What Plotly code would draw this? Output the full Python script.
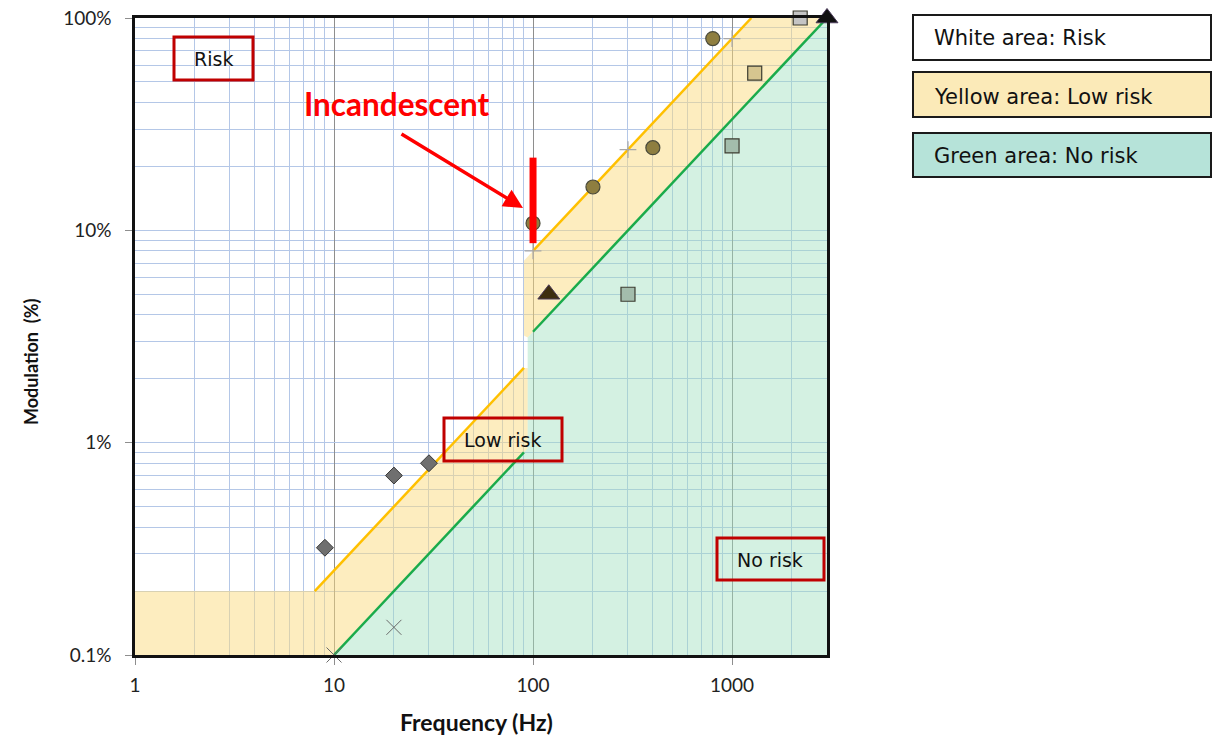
import math
import plotly.graph_objects as go

# ---- risk boundaries (modulation % vs frequency Hz) ----
low_risk_f1 = [8, 90]
low_risk_m1 = [0.2, 2.25]
low_risk_f2 = [100, 1250]
low_risk_m2 = [8, 100]
no_risk_f1 = [10, 90]
no_risk_m1 = [0.1, 0.9]
no_risk_f2 = [100, 3000]
no_risk_m2 = [3.33, 100]

# shaded regions
yellow_low_f = [1, 1, 8, 90, 94, 94, 90, 10, 1]
yellow_low_m = [0.1, 0.2, 0.2, 2.25, 2.25, 0.94, 0.9, 0.1, 0.1]
yellow_high_f = [90, 90, 1250, 3000, 94, 90]
yellow_high_m = [3.2, 7.2, 100, 100, 3.13, 3.2]
green_f = [10, 90, 94, 94, 3000, 3000, 10]
green_m = [0.1, 0.9, 0.94, 3.13, 100, 0.1, 0.1]

# ---- measured light sources ----
diamond_f = [9, 20, 30]
diamond_m = [0.32, 0.70, 0.80]
cross_f = [10, 20]
cross_m = [0.1, 0.135]
circle_f = [100, 200, 400, 800]
circle_m = [10.8, 16, 24.5, 80]
plus_f = [100, 300, 1000]
plus_m = [8, 24, 80]
square_f = [300, 1000, 1300, 2200]
square_m = [5, 25, 55, 100]
square_colors = ["#a3bdac", "#a3bdac", "#d6c58f", "#c4c4c4"]
triangle_f = [120, 3000]
triangle_m = [5, 100]
triangle_colors = ["#3d2e0f", "#111111"]

# ---- axis ticks ----
x_tickvals = [1, 10, 100, 1000]
x_ticktext = ["1", "10", "100", "1000"]
y_tickvals = [0.1, 1, 10, 100]
y_ticktext = ["0.1%", "1%", "10%", "100%"]

minor_x = [d * 10 ** e for e in range(0, 4) for d in range(2, 10) if d * 10 ** e <= 3000]
minor_y = [d * 10 ** e for e in range(-1, 2) for d in range(2, 10)]

BLUE_GRID = "#b4c7e7"
YELLOW_FILL = "rgba(252,220,128,0.5)"
GREEN_FILL = "rgba(160,225,190,0.45)"

fig = go.Figure()

for fx, fy, col in [(yellow_low_f, yellow_low_m, YELLOW_FILL),
                    (yellow_high_f, yellow_high_m, YELLOW_FILL),
                    (green_f, green_m, GREEN_FILL)]:
    fig.add_trace(go.Scatter(x=fx, y=fy, mode="lines", fill="toself",
                             fillcolor=col, line=dict(width=0),
                             hoverinfo="skip", showlegend=False))

for fx, fy, col in [(low_risk_f1, low_risk_m1, "#ffc000"),
                    (low_risk_f2, low_risk_m2, "#ffc000"),
                    (no_risk_f1, no_risk_m1, "#1aab4b"),
                    (no_risk_f2, no_risk_m2, "#1aab4b")]:
    fig.add_trace(go.Scatter(x=fx, y=fy, mode="lines",
                             line=dict(color=col, width=2.5),
                             showlegend=False))

marker_common = dict(mode="markers", showlegend=False, cliponaxis=False)
fig.add_trace(go.Scatter(x=diamond_f, y=diamond_m, **marker_common,
                         marker=dict(symbol="diamond", size=13, color="#6f6f6f",
                                     line=dict(color="#3a3a3a", width=1))))
fig.add_trace(go.Scatter(x=cross_f, y=cross_m, **marker_common,
                         marker=dict(symbol="x-thin", size=15,
                                     line=dict(color="#6a6a6a", width=1))))
fig.add_trace(go.Scatter(x=plus_f, y=plus_m, **marker_common,
                         marker=dict(symbol="cross-thin", size=12,
                                     line=dict(color="#a8a8a8", width=1.2))))
fig.add_trace(go.Scatter(x=circle_f, y=circle_m, **marker_common,
                         marker=dict(symbol="circle", size=14, color="#8e7e40",
                                     line=dict(color="#4a4a3a", width=1.2))))
fig.add_trace(go.Scatter(x=square_f, y=square_m, **marker_common,
                         marker=dict(symbol="square", size=14, color=square_colors,
                                     line=dict(color="#3c3c30", width=1.2))))
fig.add_trace(go.Scatter(x=triangle_f, y=triangle_m, **marker_common,
                         marker=dict(symbol="triangle-up", size=19, color=triangle_colors,
                                     line=dict(color="#4a3a5a", width=1))))

# plot area in pixels: x 135..827, y 18..655
L, R, T, B = 135, 827, 18, 655
W, H = R - L, B - T


def px(x):
    return (x - L) / W


def py(y):
    return (B - y) / H


shapes = []
# red bar on the incandescent reading
shapes.append(dict(type="line", xref="x", yref="y", x0=100, x1=100, y0=8.7, y1=22,
                   line=dict(color="#ff0000", width=7)))
# zone label boxes
for x0, x1, y0, y1 in [(174, 253, 37, 80), (444, 562, 418, 461), (717, 824, 538, 580)]:
    shapes.append(dict(type="rect", xref="paper", yref="paper",
                       x0=px(x0), x1=px(x1), y0=py(y1), y1=py(y0),
                       line=dict(color="#c00000", width=3)))
# key boxes on the right
for (y0, y1), fillc in zip([(15, 60), (72, 117), (133, 177)],
                           ["#ffffff", "#fbeab8", "#b6e3d9"]):
    shapes.append(dict(type="rect", xref="paper", yref="paper",
                       x0=px(913), x1=px(1211), y0=py(y1), y1=py(y0),
                       fillcolor=fillc, line=dict(color="#1a1a1a", width=2)))

annotations = []
for text, cx, cy in [("Risk", 213, 59), ("Low risk", 502, 440), ("No risk", 770, 560)]:
    annotations.append(dict(text=text, xref="paper", yref="paper", x=px(cx), y=py(cy),
                            showarrow=False, xanchor="center", yanchor="middle",
                            font=dict(family="DejaVu Sans", size=19, color="#111111")))
for text, cy in [("White area: Risk", 38), ("Yellow area: Low risk", 97), ("Green area: No risk", 156)]:
    annotations.append(dict(text=text, xref="paper", yref="paper", x=px(932), y=py(cy),
                            showarrow=False, xanchor="left", yanchor="middle",
                            font=dict(family="DejaVu Sans", size=21, color="#111111")))
annotations.append(dict(text="<b>Incandescent</b>", xref="paper", yref="paper",
                        x=px(397), y=py(104), showarrow=False,
                        xanchor="center", yanchor="middle",
                        font=dict(family="Lato", size=31.5, color="#ff0000")))
annotations.append(dict(text="", xref="paper", yref="paper", x=px(523), y=py(208),
                        ax=400 - 523, ay=133 - 208, axref="pixel", ayref="pixel",
                        showarrow=True, arrowhead=2, arrowsize=1.1, arrowwidth=3.5,
                        arrowcolor="#ff0000"))
annotations.append(dict(text="<b>Frequency (Hz)</b>", xref="paper", yref="paper",
                        x=px(476), y=py(722), showarrow=False,
                        xanchor="center", yanchor="middle",
                        font=dict(family="Lato", size=23, color="#111111")))
annotations.append(dict(text="<b>Modulation  (%)</b>", xref="paper", yref="paper",
                        x=px(31), y=py(362), showarrow=False, textangle=-90,
                        xanchor="center", yanchor="middle",
                        font=dict(family="Lato", size=18, color="#111111")))

fig.update_layout(
    width=1222, height=739,
    margin=dict(l=L, r=1222 - R, t=T, b=739 - B, autoexpand=False),
    paper_bgcolor="white", plot_bgcolor="white",
    shapes=shapes, annotations=annotations,
    xaxis=dict(type="log", range=[0, math.log10(3000)], automargin=False,
               tickvals=x_tickvals, ticktext=x_ticktext,
               showgrid=True, gridcolor="#8e8e8e", gridwidth=1,
               minor=dict(tickvals=minor_x, showgrid=True, gridcolor=BLUE_GRID,
                          gridwidth=1, ticks=""),
               showline=True, linecolor="#111111", linewidth=2.5, mirror=True,
               ticks="outside", ticklen=7, tickcolor="#8e8e8e",
               ticklabelstandoff=4,
               tickfont=dict(family="Lato", size=19, color="#222222"),
               zeroline=False),
    yaxis=dict(type="log", range=[-1, 2], automargin=False,
               tickvals=y_tickvals, ticktext=y_ticktext,
               showgrid=True, gridcolor=BLUE_GRID, gridwidth=1,
               minor=dict(tickvals=minor_y, showgrid=True, gridcolor=BLUE_GRID,
                          gridwidth=1, ticks=""),
               showline=True, linecolor="#111111", linewidth=2.5, mirror=True,
               ticks="outside", ticklen=7, tickcolor="#8e8e8e",
               ticklabelstandoff=10,
               tickfont=dict(family="Lato", size=19, color="#222222"),
               zeroline=False),
)

fig.write_html("out.html")
